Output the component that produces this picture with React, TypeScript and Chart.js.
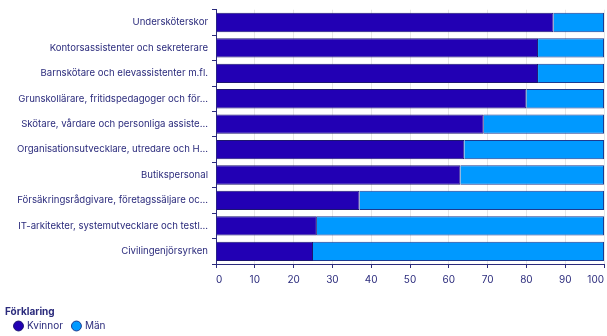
import React, { useEffect, useRef } from "react";
import { Chart, registerables } from "chart.js";

Chart.register(...registerables);

const categories = [
  "Undersköterskor",
  "Kontorsassistenter och sekreterare",
  "Barnskötare och elevassistenter m.fl.",
  "Grunskollärare, fritidspedagoger och för...",
  "Skötare, vårdare och personliga assiste...",
  "Organisationsutvecklare, utredare och H...",
  "Butikspersonal",
  "Försäkringsrådgivare, företagssäljare oc...",
  "IT-arkitekter, systemutvecklare och testl...",
  "Civilingenjörsyrken",
];

const kvinnor = [87, 83, 83, 80, 69, 64, 63, 37, 26, 25];
const man = [13, 17, 17, 20, 31, 36, 37, 63, 74, 75];

const seriesNames = ["Kvinnor", "Män"];
const legendTitle = "Förklaring";

const NAVY = "#2b2b7c";
const DARK = "#2200b4";
const LIGHT = "#0099ff";

export default function App() {
  const ref = useRef<HTMLCanvasElement | null>(null);

  useEffect(() => {
    document.body.style.margin = "0";
    if (!ref.current) return;
    const chart = new Chart(ref.current, {
      type: "bar",
      data: {
        labels: categories,
        datasets: [
          {
            label: seriesNames[0],
            data: kvinnor,
            backgroundColor: DARK,
            borderColor: "#1c1470",
            borderWidth: 1,
            barPercentage: 0.76,
            categoryPercentage: 1,
          },
          {
            label: seriesNames[1],
            data: man,
            backgroundColor: LIGHT,
            borderColor: "#1c3a90",
            borderWidth: 1,
            barPercentage: 0.76,
            categoryPercentage: 1,
          },
        ],
      },
      options: {
        indexAxis: "y",
        animation: false,
        responsive: false,
        maintainAspectRatio: false,
        layout: { padding: { top: 8, right: 3, left: 5, bottom: -5 } },
        scales: {
          x: {
            stacked: true,
            min: 0,
            max: 100,
            afterFit: (scale: any) => {
              scale.paddingRight = 0;
            },
            ticks: {
              stepSize: 10,
              color: NAVY,
              font: { family: "Inter", size: 10 },
              padding: 6,
              align: "inner",
            },
            grid: {
              color: "#e6e6e6",
              tickColor: NAVY,
              tickLength: 4,
            },
            border: { color: NAVY, width: 1 },
          },
          y: {
            stacked: true,
            afterFit: (scale: any) => {
              scale.width = 211;
            },
            ticks: {
              color: NAVY,
              font: { family: "Inter", size: 9.6 },
              padding: 4,
              autoSkip: false,
            },
            grid: {
              drawOnChartArea: false,
              tickColor: NAVY,
              tickLength: 4,
            },
            border: { color: NAVY, width: 1 },
          },
        },
        plugins: {
          tooltip: { enabled: false },
          legend: {
            position: "bottom",
            align: "start",
            title: {
              display: true,
              text: legendTitle,
              position: "start",
              color: NAVY,
              font: { family: "Inter", size: 10, weight: "bold", lineHeight: 1 },
              padding: { top: 15, bottom: -6 },
            },
            labels: {
              usePointStyle: true,
              pointStyle: "circle",
              boxHeight: 7,
              boxWidth: 7,
              color: NAVY,
              font: { family: "Inter", size: 10 },
              padding: 10,
            },
          },
        },
      },
    });
    return () => chart.destroy();
  }, []);

  return (
    <div style={{ width: 607, height: 336 }}>
      <canvas ref={ref} width={607} height={336} style={{ width: 607, height: 336, display: "block" }} />
    </div>
  );
}
